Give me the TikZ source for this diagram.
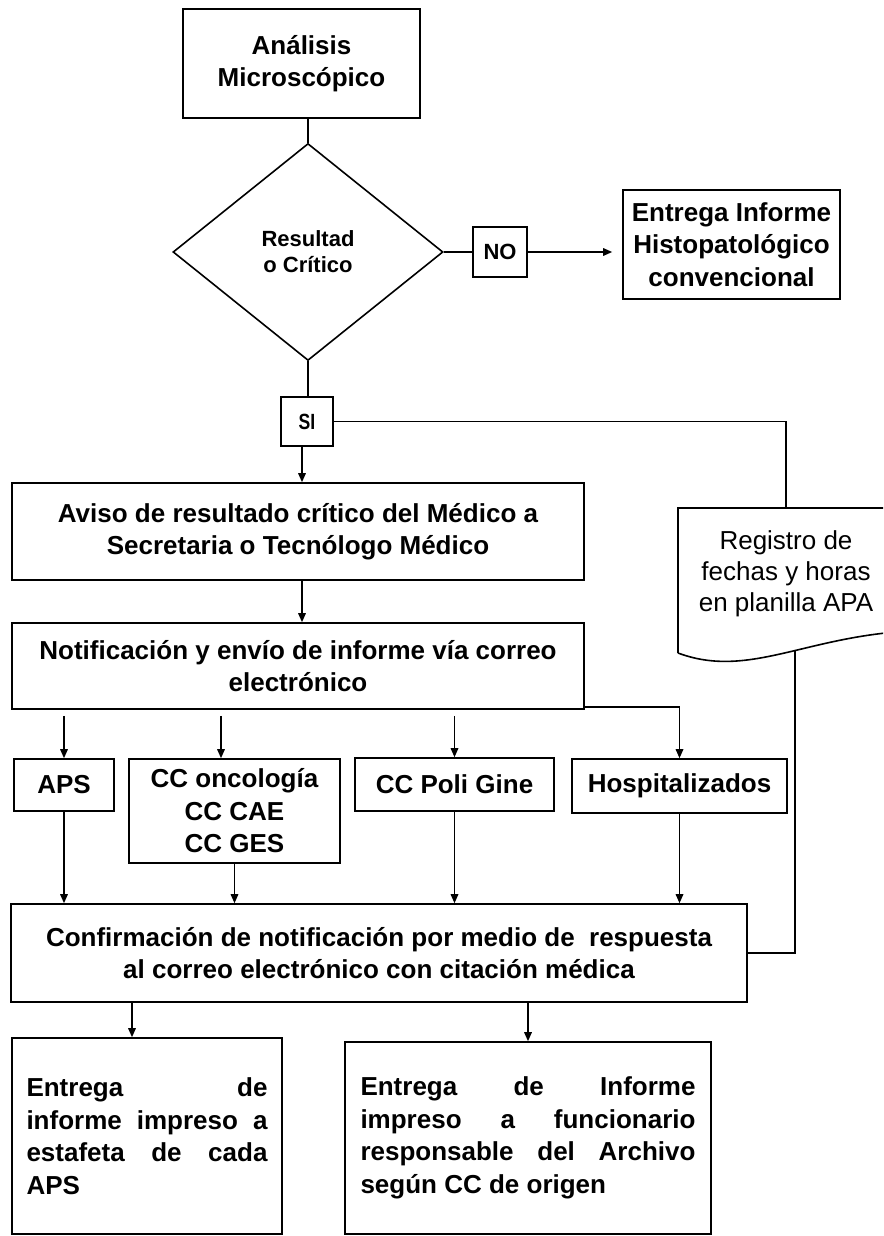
\documentclass[tikz,border=0pt]{standalone}
\usepackage{fontspec}
\setmainfont{Liberation Sans}
\usetikzlibrary{shapes.geometric,arrows.meta}
\tikzset{
  bx/.style={draw, line width=1.6pt, inner sep=0pt, align=center, font=\bfseries\fontsize{26}{32.5}\selectfont},
  smallbx/.style={bx, font=\bfseries\fontsize{22}{26}\selectfont},
  con/.style={line width=1.6pt},
  arr/.style={line width=1.6pt, -{Triangle[length=9pt,width=7.5pt]}},
}
\begin{document}
\begin{tikzpicture}[x=1pt,y=-1pt]
\useasboundingbox (0,0) rectangle (883,1236);
\clip (0,0) rectangle (883,1236);
\fill[white] (0,0) rectangle (883,1236);

% nodes
\node[bx, minimum width=237pt, minimum height=109pt] (ana) at (301.5,63.5) {Análisis\\Microscópico};
\node[draw, diamond, line width=1.6pt, minimum width=270pt, minimum height=217pt, inner sep=0pt,
      align=center, font=\bfseries\fontsize{22}{26}\selectfont] (dia) at (308,252) {Resultad\\o Crítico};
\node[smallbx, minimum width=54pt, minimum height=50pt] (no) at (500,252) {NO};
\node[bx, minimum width=217pt, minimum height=109pt] (ent) at (731.5,244.5) {Entrega Informe\\Histopatológico\\convencional};
\node[smallbx, minimum width=52pt, minimum height=49pt] (si) at (307,421.5) {\scalebox{0.8}[1]{SI}};
\node[bx, minimum width=572pt, minimum height=97pt] (aviso) at (298,531.5) {Aviso de resultado crítico del Médico a\\Secretaria o Tecnólogo Médico};
\node[bx, minimum width=572pt, minimum height=86pt] (notif) at (298,666) {Notificación y envío de informe vía correo\\electrónico};
\node[bx, minimum width=100pt, minimum height=52pt] (aps) at (64,785) {APS};
\node[bx, minimum width=211pt, minimum height=104pt] (cconc) at (234.5,811) {CC oncología\\CC CAE\\CC GES};
\node[bx, minimum width=199pt, minimum height=53pt] (poli) at (454.5,784.5) {CC Poli Gine};
\node[bx, minimum width=215pt, minimum height=54pt] (hosp) at (679.5,786) {Hospitalizados};
\node[bx, minimum width=736pt, minimum height=98pt] (conf) at (379,953) {Confirmación de notificación por medio de~ respuesta\\al correo electrónico con citación médica};
\node[bx, align=left, minimum width=270pt, minimum height=196pt] (bl) at (147,1136)
  {\makebox[241pt][s]{Entrega de}\\\makebox[241pt][s]{informe impreso a}\\\makebox[241pt][s]{estafeta de cada}\\APS};
\node[bx, align=left, minimum width=366pt, minimum height=192pt] (br) at (528,1138)
  {\makebox[335pt][s]{Entrega de Informe}\\\makebox[335pt][s]{impreso a funcionario}\\\makebox[335pt][s]{responsable del Archivo}\\según CC de origen};

% document shape
\node[align=center, inner sep=0pt, font=\fontsize{26}{31}\selectfont] (reg) at (786,574) {Registro de\\fechas y horas\\en planilla APA};
\draw[con] (678,653) -- (678,508) -- (900,508);
\draw[con] (678,653) .. controls (745,678) and (800,640) .. (896,632);
\coordinate (doctop) at (786,508);
\coordinate (docbot) at (795,651);

% connectors
\draw[con] (dia.north |- ana.south) -- (dia.north);
\draw[con] (dia.east) -- (no.west);
\draw[arr, shorten >=10pt] (no.east) -- (no.east -| ent.west);
\draw[con] (dia.south) -- (dia.south |- si.north);
\coordinate (s1) at ([xshift=-5pt]si.south);
\draw[arr] (s1) -- (s1 |- aviso.north);
\draw[con] (si.east) -| (doctop);
\draw[arr] (s1 |- aviso.south) -- (s1 |- notif.north);

\coordinate (c1) at ([xshift=-13.5pt]cconc.north);
\draw[arr, shorten <=6pt] (aps.north |- notif.south) -- (aps.north);
\draw[arr, shorten <=6pt] (c1 |- notif.south) -- (c1);
\draw[arr, shorten <=6pt] (poli.north |- notif.south) -- (poli.north);
\draw[arr] ([yshift=3pt]notif.south east) -| (hosp.north);

\draw[arr] (aps.south) -- (aps.south |- conf.north);
\draw[arr] (cconc.south) -- (cconc.south |- conf.north);
\draw[arr] (poli.south) -- (poli.south |- conf.north);
\draw[arr] (hosp.south) -- (hosp.south |- conf.north);
\draw[con] (docbot) |- (conf.east);

\coordinate (b1) at ([xshift=-15pt]bl.north);
\draw[arr] (b1 |- conf.south) -- (b1);
\draw[arr] (br.north |- conf.south) -- (br.north);
\end{tikzpicture}
\end{document}
